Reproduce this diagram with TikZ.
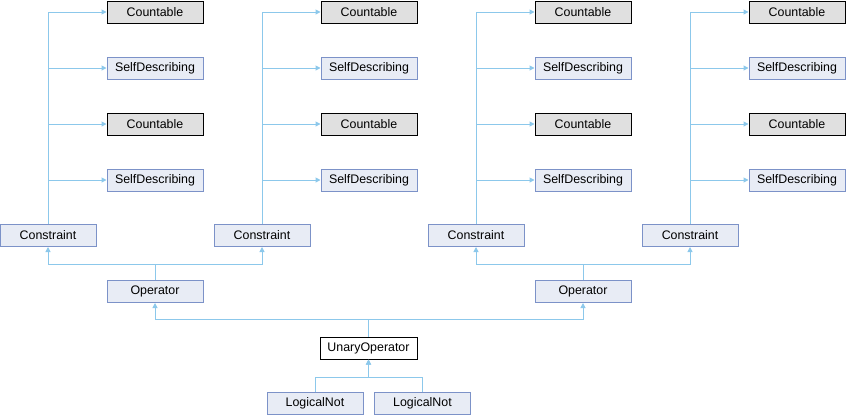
\documentclass[tikz,border=0pt]{standalone}
\usepackage{fontspec}
\setmainfont{Liberation Sans}
\usepackage{tikz}
\usetikzlibrary{
    arrows.meta,
    positioning
}
\definecolor{edgeblue}{RGB}{140,200,235}
\definecolor{boxfill}{RGB}{232,236,245}
\definecolor{boxline}{RGB}{124,146,200}
\definecolor{grayfill}{RGB}{224,224,224}
\tikzset{
    every node/.append style = {
        font = \fontsize{12.4}{14}\selectfont,
        rectangle,
        inner sep = 0pt,
        minimum width = 96pt,
        minimum height = 22pt,
        line width = 1pt
    },
    classbox/.style = {
        draw = boxline,
        fill = boxfill
    },
    extbox/.style = {
        draw = black,
        fill = grayfill
    },
    mainbox/.style = {
        draw = black,
        fill = white,
        minimum width = 97pt
    },
    edge/.style = {
        draw = edgeblue,
        line width = 1pt,
        -{Triangle[length=5pt,width=5pt]}
    }
}

\begin{document}
\begin{tikzpicture}[x=1pt, y=-1pt]
        \useasboundingbox (0,0) rectangle (846,416);

        % top rows
        \node[extbox] (cnt1a) at (155,12) {Countable};
        \node[classbox] (sd1a) at (155,68) {SelfDescribing};
        \node[extbox] (cnt1b) at (155,124) {Countable};
        \node[classbox] (sd1b) at (155,180) {SelfDescribing};

        \node[extbox] (cnt2a) at (369,12) {Countable};
        \node[classbox] (sd2a) at (369,68) {SelfDescribing};
        \node[extbox] (cnt2b) at (369,124) {Countable};
        \node[classbox] (sd2b) at (369,180) {SelfDescribing};

        \node[extbox] (cnt3a) at (583,12) {Countable};
        \node[classbox] (sd3a) at (583,68) {SelfDescribing};
        \node[extbox] (cnt3b) at (583,124) {Countable};
        \node[classbox] (sd3b) at (583,180) {SelfDescribing};

        \node[extbox] (cnt4a) at (797,12) {Countable};
        \node[classbox] (sd4a) at (797,68) {SelfDescribing};
        \node[extbox] (cnt4b) at (797,124) {Countable};
        \node[classbox] (sd4b) at (797,180) {SelfDescribing};

        % constraints
        \node[classbox] (cons1) at (48,235.5) {Constraint};
        \node[classbox] (cons2) at (262,235.5) {Constraint};
        \node[classbox] (cons3) at (476,235.5) {Constraint};
        \node[classbox] (cons4) at (690,235.5) {Constraint};

        % operators
        \node[classbox] (op1) at (155,291.5) {Operator};
        \node[classbox] (op2) at (583,291.5) {Operator};

        \node[mainbox] (unary) at (368.5,348) {UnaryOperator};

        \node[classbox] (not1) at (315,403.5) {LogicalNot};
        \node[classbox] (not2) at (422.5,403.5) {LogicalNot};

        \draw[edge] (cons1.north) |- (cnt1a.west);
        \draw[edge] (cons1.north) |- (sd1a.west);
        \draw[edge] (cons1.north) |- (cnt1b.west);
        \draw[edge] (cons1.north) |- (sd1b.west);

        \draw[edge] (cons2.north) |- (cnt2a.west);
        \draw[edge] (cons2.north) |- (sd2a.west);
        \draw[edge] (cons2.north) |- (cnt2b.west);
        \draw[edge] (cons2.north) |- (sd2b.west);

        \draw[edge] (cons3.north) |- (cnt3a.west);
        \draw[edge] (cons3.north) |- (sd3a.west);
        \draw[edge] (cons3.north) |- (cnt3b.west);
        \draw[edge] (cons3.north) |- (sd3b.west);

        \draw[edge] (cons4.north) |- (cnt4a.west);
        \draw[edge] (cons4.north) |- (sd4a.west);
        \draw[edge] (cons4.north) |- (cnt4b.west);
        \draw[edge] (cons4.north) |- (sd4b.west);

        \draw[edge] (op1.north) -- ++(0,-16) -| (cons1.south);
        \draw[edge] (op1.north) -- ++(0,-16) -| (cons2.south);
        \draw[edge] (op2.north) -- ++(0,-16) -| (cons3.south);
        \draw[edge] (op2.north) -- ++(0,-16) -| (cons4.south);

        \draw[edge] (unary.north) -- ++(0,-17) -| (op1.south);
        \draw[edge] (unary.north) -- ++(0,-17) -| (op2.south);

        \draw[edge] (not1.north) -- ++(0,-15) -| (unary.south);
        \draw[edge] (not2.north) -- ++(0,-15) -| (unary.south);
    \end{tikzpicture}
\end{document}
